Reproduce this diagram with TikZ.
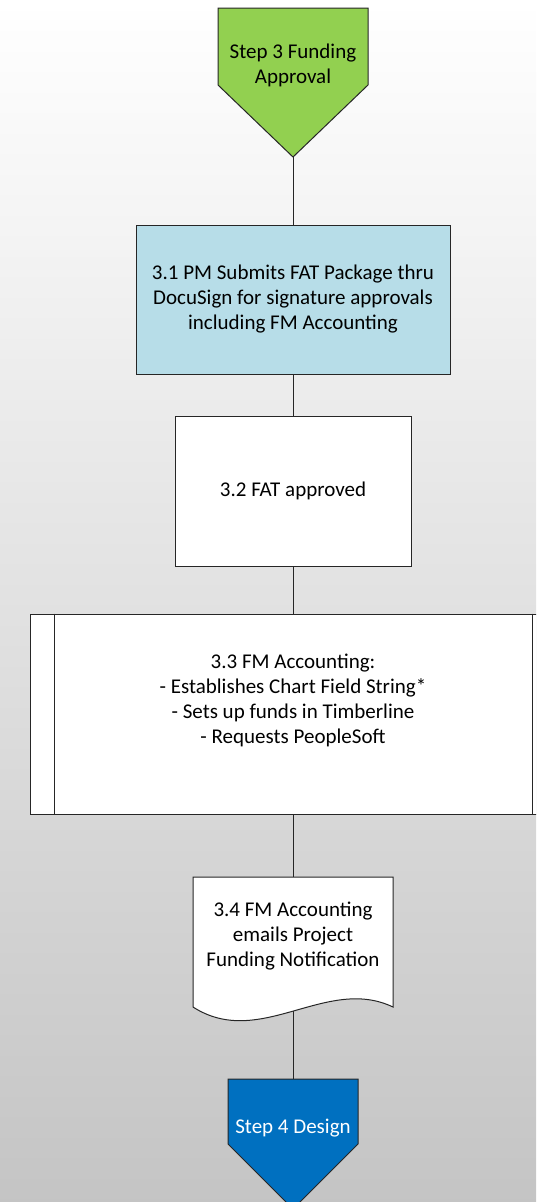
\documentclass[tikz,border=0pt]{standalone}
\usepackage{fontspec}
\setmainfont{Carlito}
\usetikzlibrary{positioning,calc}
\pgfdeclarelayer{background}
\pgfsetlayers{background,main}
\definecolor{stepgreen}{HTML}{92D050}
\definecolor{boxblue}{HTML}{B7DDE8}
\definecolor{stepblue}{HTML}{0070C0}
\tikzset{
  flow/.style={draw=black!85, line width=1pt},
  txt/.style={align=center, inner sep=0pt, font=\fontsize{21}{25}\selectfont},
  procbox/.style={txt, flow, rectangle}
}

\begin{document}
\begin{tikzpicture}[x=1pt,y=-1pt,on grid]
   \useasboundingbox (0,0) rectangle (536,1202);
   \clip (0,0) rectangle (536,1202);
   % nodes
   \node [txt] (S3) at (293,65) {Step 3 Funding\\Approval};
   \node [procbox,fill=boxblue,minimum width=314pt,minimum height=149pt] (P31) [below=234.5pt of S3]
      {3.1 PM Submits FAT Package thru\\DocuSign for signature approvals\\including FM Accounting};
   \node [procbox,fill=white,minimum width=236pt,minimum height=150pt] (P32) [below=191.5pt of P31] {3.2 FAT approved};
   \node [procbox,fill=white,minimum width=525pt,minimum height=200pt,text depth=30pt] (P33) [below=223pt of P32]
      {3.3 FM Accounting:\\- Establishes Chart Field String*\\- Sets up funds in Timberline\\- Requests PeopleSoft};
   \node [txt] (P34) [below=222pt of P33] {3.4 FM Accounting\\emails Project\\Funding Notification};
   \node [txt,text=white] (S4) [below=192pt of P34] {Step 4 Design};
   \coordinate (S3tip) at ($(S3)+(0,92)$);
   \coordinate (P34top) at ($(P34)+(0,-59)$);
   \coordinate (P34foot) at ($(P34)+(0,75)$);
   \coordinate (S4top) at ($(S4)+(0,-49)$);
   % shapes behind the texts
   \begin{pgfonlayer}{background}
      \shade [top color=white,middle color=black!9,bottom color=black!23] (0,0) rectangle (536,1202);
      \draw [flow,fill=stepgreen] ($(S3)+(-75,-57)$) -- ($(S3)+(75,-57)$) -- ($(S3)+(75,20)$) -- (S3tip) -- ($(S3)+(-75,20)$) -- cycle;
      \draw [flow,fill=white] ($(P34)+(-100,-59)$) -- ($(P34)+(100,-59)$) -- ($(P34)+(100,71)$)
         .. controls ($(P34)+(33,39)$) and ($(P34)+(-33,114)$) .. ($(P34)+(-100,71)$) -- cycle;
      \draw [flow,fill=stepblue] ($(S4)+(-65,-49)$) -- ($(S4)+(65,-49)$) -- ($(S4)+(65,16)$) -- ($(S4)+(0,81)$) -- ($(S4)+(-65,16)$) -- cycle;
   \end{pgfonlayer}
   % side bars of 3.3
   \draw [flow] ([xshift=24pt]P33.north west) -- ([xshift=24pt]P33.south west);
   \draw [flow] ([xshift=-24pt]P33.north east) -- ([xshift=-24pt]P33.south east);
   % connectors
   \draw [flow] (S3tip) -- (P31.north);
   \draw [flow] (P31.south) -- (P32.north);
   \draw [flow] (P32.south) -- (P33.north);
   \draw [flow] (P33.south) -- (P34top);
   \draw [flow] (P34foot) -- (S4top);
\end{tikzpicture}
\end{document}
